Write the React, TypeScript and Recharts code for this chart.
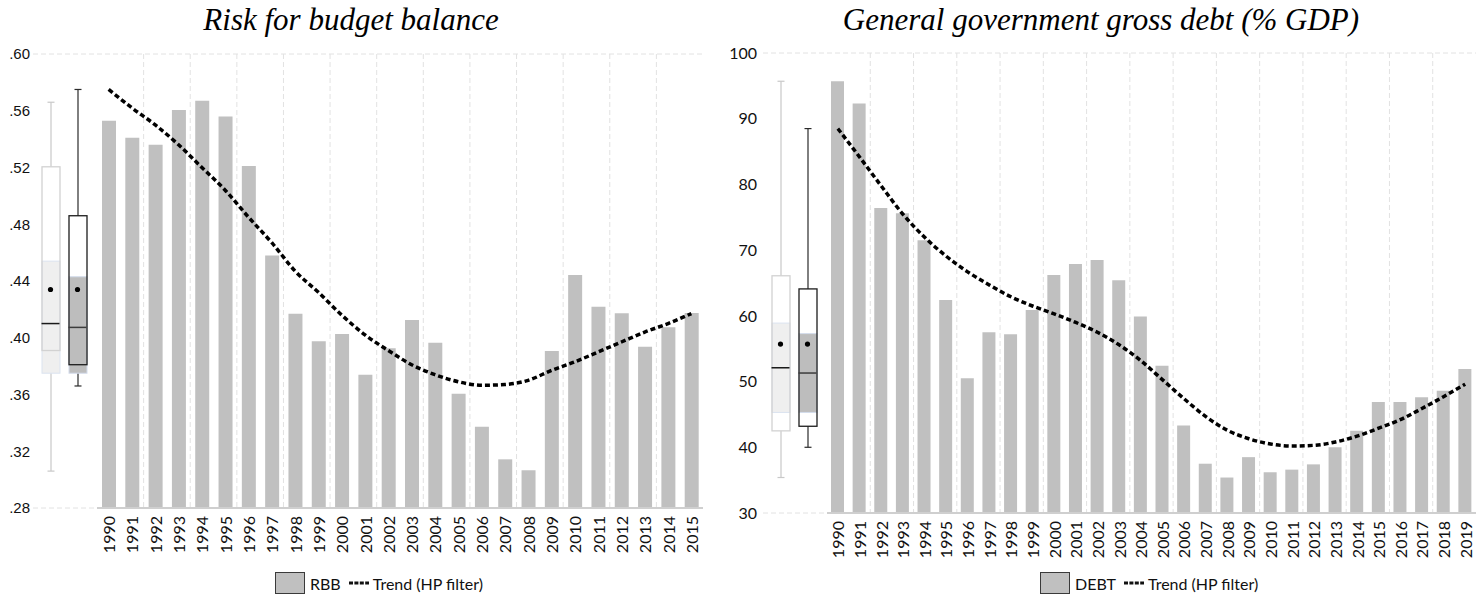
import {
  ComposedChart,
  Bar,
  Line,
  Scatter,
  XAxis,
  YAxis,
  CartesianGrid,
} from 'recharts';

// ---- risk for budget balance ----
const RBB_YEARS = [
  '1990', '1991', '1992', '1993', '1994', '1995', '1996', '1997', '1998', '1999',
  '2000', '2001', '2002', '2003', '2004', '2005', '2006', '2007', '2008', '2009',
  '2010', '2011', '2012', '2013', '2014', '2015',
];
const RBB = [
  0.553, 0.541, 0.536, 0.5605, 0.567, 0.556, 0.521, 0.458, 0.417, 0.3975,
  0.4026, 0.374, 0.3926, 0.4125, 0.3965, 0.3606, 0.3373, 0.3143, 0.3066, 0.3907,
  0.4442, 0.4219, 0.4172, 0.3937, 0.4074, 0.4174,
];
const RBB_TREND = [
  0.575, 0.562, 0.55, 0.536, 0.52, 0.504, 0.485, 0.467, 0.447, 0.432,
  0.416, 0.402, 0.391, 0.381, 0.374, 0.369, 0.3665, 0.367, 0.37, 0.377,
  0.383, 0.39, 0.397, 0.404, 0.41, 0.417,
];
const RBB_TICKS = [0.28, 0.32, 0.36, 0.4, 0.44, 0.48, 0.52, 0.56, 0.6];
const RBB_STATS = { min: 0.306, q1: 0.391, median: 0.41, q3: 0.5205, max: 0.566, mean: 0.434, ciLow: 0.375, ciHigh: 0.454 };
const RBB_TREND_STATS = { min: 0.366, q1: 0.381, median: 0.4073, q3: 0.486, max: 0.575, mean: 0.434, ciLow: 0.375, ciHigh: 0.443 };

// ---- general government gross debt ----
const DEBT_YEARS = [
  '1990', '1991', '1992', '1993', '1994', '1995', '1996', '1997', '1998', '1999',
  '2000', '2001', '2002', '2003', '2004', '2005', '2006', '2007', '2008', '2009',
  '2010', '2011', '2012', '2013', '2014', '2015', '2016', '2017', '2018', '2019',
];
const DEBT = [
  95.7, 92.3, 76.4, 75.6, 71.5, 62.4, 50.5, 57.5, 57.2, 60.9,
  66.2, 67.9, 68.5, 65.4, 59.9, 52.4, 43.3, 37.5, 35.4, 38.5,
  36.2, 36.6, 37.4, 40.0, 42.5, 46.9, 46.9, 47.6, 48.6, 51.9,
];
const DEBT_TREND = [
  88.5, 84.2, 79.8, 75.5, 72.0, 69.1, 66.7, 64.7, 62.9, 61.5,
  60.3, 59.0, 57.5, 55.6, 53.2, 50.3, 47.4, 44.7, 42.6, 41.3,
  40.5, 40.2, 40.3, 40.8, 41.7, 42.9, 44.2, 45.9, 47.7, 49.6,
];
const DEBT_TICKS = [30, 40, 50, 60, 70, 80, 90, 100];
const DEBT_STATS = { min: 35.4, q1: 42.5, median: 52.1, q3: 66.1, max: 95.7, mean: 55.7, ciLow: 45.3, ciHigh: 58.9 };
const DEBT_TREND_STATS = { min: 40.0, q1: 43.2, median: 51.3, q3: 64.1, max: 88.5, mean: 55.7, ciLow: 45.3, ciHigh: 57.3 };

type Stats = typeof RBB_STATS;

const BAR_FILL = '#c0c0c0';
const GRID = '#e2e2e2';
const AXIS = '#cfcfcf';
const CALIBRI = 'Lato, "Noto Sans", sans-serif';

// raw series box is pale, trend box is dark
const BOX_LOOK: Record<string, { whisker: string; box: string; ci: string; ciEdge: string; median: string }> = {
  raw: { whisker: '#c8c8c8', box: '#d2d2d2', ci: '#efefef', ciEdge: '#dbe3f0', median: '#1a1a1a' },
  trend: { whisker: '#2a2a2a', box: '#1c1c1c', ci: '#bdbdbd', ciEdge: '#d3dcec', median: '#3c3c3c' },
};

const boxRows = (raw: Stats, trend: Stats) =>
  [
    { name: 'raw', s: raw },
    { name: 'trend', s: trend },
  ].map(({ name, s }) => ({
    name,
    whisker: [s.min, s.max],
    box: [s.q1, s.q3],
    ci: [s.ciLow, s.ciHigh],
    median: s.median,
    mean: s.mean,
  }));

const interior = (ticks: number[]) => ticks.slice(1, -1);

const WhiskerShape = (p: any) => {
  const look = BOX_LOOK[p.payload.name];
  const cx = p.x + p.width / 2;
  return (
    <g stroke={look.whisker} strokeWidth={1.2}>
      <line x1={cx} x2={cx} y1={p.y} y2={p.y + p.height} />
      <line x1={cx - 3.5} x2={cx + 3.5} y1={p.y} y2={p.y} />
      <line x1={cx - 3.5} x2={cx + 3.5} y1={p.y + p.height} y2={p.y + p.height} />
    </g>
  );
};

const BoxFillShape = (p: any) => <rect x={p.x} y={p.y} width={p.width} height={p.height} fill="#fff" />;

const CiShape = (p: any) => {
  const look = BOX_LOOK[p.payload.name];
  return (
    <rect x={p.x} y={p.y} width={p.width} height={p.height} fill={look.ci} stroke={look.ciEdge} strokeWidth={1} />
  );
};

const BoxOutlineShape = (p: any) => {
  const look = BOX_LOOK[p.payload.name];
  return (
    <rect x={p.x} y={p.y} width={p.width} height={p.height} fill="none" stroke={look.box} strokeWidth={1.3} />
  );
};

const MedianShape = (p: any) => {
  const look = BOX_LOOK[p.payload.name];
  return <line x1={p.cx - 9} x2={p.cx + 9} y1={p.cy} y2={p.cy} stroke={look.median} strokeWidth={1.5} />;
};

const MeanShape = (p: any) => <circle cx={p.cx} cy={p.cy} r={2.6} fill="#000" />;

const YearTick = (props: any) => {
  const { x, y, payload } = props;
  return (
    <g transform={`translate(${x},${y})`}>
      <text
        transform="rotate(-90)"
        x={-8}
        y={0}
        textAnchor="end"
        dominantBaseline="central"
        fontFamily={CALIBRI}
        fontSize={16}
        fill="#111"
      >
        {payload.value}
      </text>
    </g>
  );
};

interface BoxPanelProps {
  left: number;
  width: number;
  top: number;
  bottom: number;
  labelWidth: number;
  labelGap: number;
  raw: Stats;
  trend: Stats;
  ticks: number[];
  format: (v: number) => string;
  font: string;
  fontSize: number;
}

// two box plots sitting left of the bar chart, sharing its value scale
const BoxPanel = ({ left, width, top, bottom, labelWidth, labelGap, raw, trend, ticks, format, font, fontSize }: BoxPanelProps) => {
  const rows = boxRows(raw, trend);
  const domain = [ticks[0], ticks[ticks.length - 1]];
  const pad = { left: 4, right: 6 };
  return (
    <div style={{ position: 'absolute', left, top: 0 }}>
      <ComposedChart width={width} height={597} data={rows} margin={{ top, bottom, left: 0, right: 0 }}>
        <XAxis xAxisId="w" dataKey="name" type="category" hide padding={pad} />
        <XAxis xAxisId="b" dataKey="name" type="category" hide padding={pad} />
        <XAxis xAxisId="c" dataKey="name" type="category" hide padding={pad} />
        <XAxis xAxisId="o" dataKey="name" type="category" hide padding={pad} />
        <YAxis
          yAxisId="lab"
          type="number"
          domain={domain}
          ticks={ticks}
          width={labelWidth}
          axisLine={false}
          tickLine={false}
          tickSize={0}
          tickMargin={labelGap}
          tickFormatter={format}
          tick={{ fontFamily: font, fontSize, fill: '#111' }}
        />
        {/* hidden copy of the scale, only to drop the edge lines from the grid */}
        <YAxis yAxisId="grid" orientation="right" type="number" domain={domain} ticks={interior(ticks)} hide />
        <CartesianGrid xAxisId="w" yAxisId="grid" vertical={false} stroke={GRID} strokeDasharray="5 3" />
        <Bar xAxisId="w" yAxisId="lab" dataKey="whisker" barSize={18} shape={WhiskerShape} isAnimationActive={false} />
        <Bar xAxisId="b" yAxisId="lab" dataKey="box" barSize={18} shape={BoxFillShape} isAnimationActive={false} />
        <Bar xAxisId="c" yAxisId="lab" dataKey="ci" barSize={18} shape={CiShape} isAnimationActive={false} />
        <Bar xAxisId="o" yAxisId="lab" dataKey="box" barSize={18} shape={BoxOutlineShape} isAnimationActive={false} />
        <Scatter xAxisId="w" yAxisId="lab" dataKey="median" shape={MedianShape} isAnimationActive={false} />
        <Scatter xAxisId="w" yAxisId="lab" dataKey="mean" shape={MeanShape} isAnimationActive={false} />
      </ComposedChart>
    </div>
  );
};

interface BarPanelProps {
  left: number;
  width: number;
  top: number;
  bottom: number;
  right: number;
  years: string[];
  values: number[];
  trend: number[];
  ticks: number[];
  barSize: number;
}

const BarPanel = ({ left, width, top, bottom, right, years, values, trend, ticks, barSize }: BarPanelProps) => {
  const data = years.map((year, i) => ({ year, value: values[i], trend: trend[i] }));
  const n = years.length;
  // dashed verticals every second category boundary
  const verticals = ({ offset }: any) => {
    const out: number[] = [];
    for (let k = 2; k < n; k += 2) out.push(offset.left + (k * offset.width) / n);
    return out;
  };
  return (
    <div style={{ position: 'absolute', left, top: 0 }}>
      <ComposedChart width={width} height={597} data={data} margin={{ top, bottom, left: 10, right }}>
        <CartesianGrid stroke={GRID} strokeDasharray="5 3" verticalCoordinatesGenerator={verticals} />
        <XAxis
          dataKey="year"
          interval={0}
          height={50}
          tickLine={false}
          tickSize={0}
          tickMargin={0}
          axisLine={{ stroke: AXIS, strokeWidth: 2 }}
          tick={<YearTick />}
        />
        <YAxis
          type="number"
          domain={[ticks[0], ticks[ticks.length - 1]]}
          ticks={interior(ticks)}
          width={0}
          tick={false}
          tickLine={false}
          axisLine={{ stroke: AXIS, strokeWidth: 2 }}
        />
        <Bar dataKey="value" fill={BAR_FILL} barSize={barSize} isAnimationActive={false} />
        <Line
          dataKey="trend"
          type="monotone"
          stroke="#000"
          strokeWidth={3.5}
          strokeDasharray="5 3"
          dot={false}
          isAnimationActive={false}
        />
      </ComposedChart>
    </div>
  );
};

const Title = ({ center, text }: { center: number; text: string }) => (
  <div
    style={{
      position: 'absolute',
      left: center - 350,
      width: 700,
      top: 4,
      textAlign: 'center',
      fontFamily: '"Liberation Serif", "Times New Roman", serif',
      fontStyle: 'italic',
      fontSize: 31,
      lineHeight: '31px',
      color: '#000',
      whiteSpace: 'nowrap',
    }}
  >
    {text}
  </div>
);

const LegendRow = ({ left, label }: { left: number; label: string }) => (
  <div
    style={{
      position: 'absolute',
      left,
      top: 572,
      height: 22,
      display: 'flex',
      alignItems: 'center',
      fontFamily: CALIBRI,
      fontSize: 16,
      color: '#111',
      whiteSpace: 'nowrap',
    }}
  >
    <div style={{ width: 28, height: 20, background: BAR_FILL, border: '1px solid #3a3a3a' }} />
    <span style={{ marginLeft: 5 }}>{label}</span>
    <svg width={21} height={6} style={{ marginLeft: 8 }}>
      <line x1={0} y1={3} x2={20} y2={3} stroke="#111" strokeWidth={3} strokeDasharray="4 1.4" />
    </svg>
    <span style={{ marginLeft: 3 }}>Trend (HP filter)</span>
  </div>
);

const fmtShare = (v: number) => v.toFixed(2).replace(/^0/, '');
const fmtInt = (v: number) => String(v);

export default function App() {
  return (
    <div style={{ position: 'absolute', left: 0, top: 0, width: 1480, height: 597, background: '#fff', overflow: 'hidden' }}>
      <Title center={351} text="Risk for budget balance" />
      <Title center={1101} text="General government gross debt (% GDP)" />

      <BoxPanel
        left={0}
        width={97}
        top={54}
        bottom={89}
        labelWidth={33}
        labelGap={3}
        raw={RBB_STATS}
        trend={RBB_TREND_STATS}
        ticks={RBB_TICKS}
        format={fmtShare}
        font={'"Liberation Sans", Arial, sans-serif'}
        fontSize={15}
      />
      <BarPanel
        left={87}
        width={630}
        top={54}
        bottom={39}
        right={14}
        years={RBB_YEARS}
        values={RBB}
        trend={RBB_TREND}
        ticks={RBB_TICKS}
        barSize={14}
      />
      <LegendRow left={275} label="RBB" />

      <BoxPanel
        left={710}
        width={117}
        top={53}
        bottom={84}
        labelWidth={53}
        labelGap={6}
        raw={DEBT_STATS}
        trend={DEBT_TREND_STATS}
        ticks={DEBT_TICKS}
        format={fmtInt}
        font={CALIBRI}
        fontSize={16}
      />
      <BarPanel
        left={817}
        width={663}
        top={53}
        bottom={34}
        right={4}
        years={DEBT_YEARS}
        values={DEBT}
        trend={DEBT_TREND}
        ticks={DEBT_TICKS}
        barSize={13}
      />
      <LegendRow left={1040} label="DEBT" />
    </div>
  );
}
